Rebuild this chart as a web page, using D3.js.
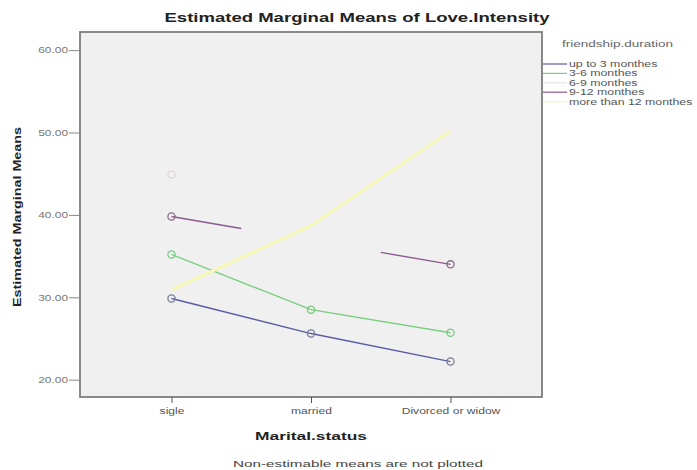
<!DOCTYPE html>
<html><head><meta charset="utf-8">
<script src="https://cdn.jsdelivr.net/npm/d3@7"></script>
<style>body{margin:0;background:#fff;}svg{display:block;font-family:"Liberation Sans",Arial,sans-serif;}</style>
</head><body><svg id="c" width="697" height="470"></svg>
<script>
// ---- data ----
const categories = ["sigle", "married", "Divorced or widow"];
const seriesNames = ["up to 3 monthes", "3-6 monthes", "6-9 monthes", "9-12 monthes", "more than 12 monthes"];
const upTo3 = [29.85, 25.6, 22.2];
const m3to6 = [35.2, 28.5, 25.7];
const m6to9 = [44.9, null, null];
const m9to12 = [39.8, 36.9, 34.0];
const m9to12Plotted = [true, false, true];
const more12 = [30.9, 38.7, 50.2];
const yTicks = [20, 30, 40, 50, 60];
const colors = ["#5b5ba6", "#79cf7e", "#eee2ea", "#8c5a8c", "#f6f7b4"];
const markerColors = ["#7a7a9a", "#79c983", "#dcd6dc", "#8a6a8a", "#f4f4c8"];

const seriesValues = [upTo3, m3to6, m6to9, m9to12, more12];
const plotted = [null, null, null, m9to12Plotted, null];
const showMarkers = [true, true, true, true, false];

const svg = d3.select("#c");
svg.append("rect").attr("width", 697).attr("height", 470).attr("fill", "#fff");

function stretch(sel, f) {
  sel.each(function () {
    const w = this.getComputedTextLength();
    d3.select(this).attr("textLength", w * f).attr("lengthAdjust", "spacingAndGlyphs");
  });
}

const L = 80, T = 32, R = 542, B = 397;
const x = d3.scalePoint().domain(categories).range([L, R]).padding(0.656);
const y = d3.scaleLinear().domain([17.9, 62.2]).range([B, T]);

// plot background
svg.append("rect").attr("x", L).attr("y", T).attr("width", R - L).attr("height", B - T)
  .attr("fill", "#f0f0f0");

// lines
seriesValues.forEach((vals, si) => {
  const pl = plotted[si] || vals.map(v => v != null);
  const g = svg.append("g");
  for (let i = 0; i < vals.length - 1; i++) {
    const a = vals[i], b = vals[i + 1];
    if (a == null || b == null) continue;
    let x1 = x(categories[i]), y1 = y(a), x2 = x(categories[i + 1]), y2 = y(b);
    if (!pl[i] && !pl[i + 1]) continue;
    if (!pl[i + 1]) { x2 = (x1 + x2) / 2; y2 = (y1 + y2) / 2; }
    else if (!pl[i]) { x1 = (x1 + x2) / 2; y1 = (y1 + y2) / 2; }
    g.append("line").attr("x1", x1).attr("y1", y1).attr("x2", x2).attr("y2", y2)
      .attr("stroke", colors[si]).attr("stroke-width", si === 4 ? 3 : 1.4);
  }
  if (showMarkers[si]) {
    vals.forEach((v, i) => {
      if (v == null || !pl[i]) return;
      g.append("circle").attr("cx", x(categories[i])).attr("cy", y(v)).attr("r", 3.6)
        .attr("fill", "none").attr("stroke", markerColors[si]).attr("stroke-width", 1.3);
    });
  }
});

// frame
svg.append("rect").attr("x", L).attr("y", T).attr("width", R - L).attr("height", B - T)
  .attr("fill", "none").attr("stroke", "#7d7d7d").attr("stroke-width", 1.8);

// y axis
const ya = svg.append("g").attr("transform", `translate(${L},0)`)
  .call(d3.axisLeft(y).tickValues(yTicks).tickFormat(d3.format(".2f")).tickSize(11).tickSizeOuter(0));
ya.select(".domain").remove();
ya.selectAll(".tick line").attr("stroke", "#888");
ya.selectAll(".tick text").attr("fill", "#777").attr("font-size", 8.5).attr("x", -12)
  .attr("font-family", "Liberation Sans, Arial, sans-serif");
stretch(ya.selectAll(".tick text"), 1.4);

// x axis
const xa = svg.append("g").attr("transform", `translate(0,${B})`)
  .call(d3.axisBottom(x).tickSize(6).tickSizeOuter(0));
xa.select(".domain").remove();
xa.selectAll(".tick line").attr("stroke", "#555");
xa.selectAll(".tick text").attr("fill", "#555").attr("font-size", 8.5).attr("y", 11)
  .attr("font-family", "Liberation Sans, Arial, sans-serif");
stretch(xa.selectAll(".tick text"), 1.42);

// titles
svg.append("text").attr("x", 357).attr("y", 22).attr("text-anchor", "middle")
  .attr("font-weight", "bold").attr("font-size", 12.5).attr("fill", "#222")
  .attr("textLength", 385).attr("lengthAdjust", "spacingAndGlyphs")
  .text("Estimated Marginal Means of Love.Intensity");
svg.append("text").attr("transform", "translate(21,217) rotate(-90)").attr("text-anchor", "middle")
  .attr("font-weight", "bold").attr("font-size", 11).attr("fill", "#222")
  .attr("textLength", 180).attr("lengthAdjust", "spacingAndGlyphs")
  .text("Estimated Marginal Means");
svg.append("text").attr("x", 311).attr("y", 440).attr("text-anchor", "middle")
  .attr("font-weight", "bold").attr("font-size", 11.5).attr("fill", "#222")
  .attr("textLength", 112).attr("lengthAdjust", "spacingAndGlyphs")
  .text("Marital.status");
svg.append("text").attr("x", 358).attr("y", 467).attr("text-anchor", "middle")
  .attr("font-size", 9.5).attr("fill", "#444")
  .attr("textLength", 250).attr("lengthAdjust", "spacingAndGlyphs")
  .text("Non-estimable means are not plotted");

// legend
const lg = svg.append("g");
lg.append("text").attr("x", 562).attr("y", 47).attr("font-size", 9).attr("fill", "#666")
  .attr("textLength", 111).attr("lengthAdjust", "spacingAndGlyphs").text("friendship.duration");
seriesNames.forEach((n, i) => {
  const yy = 64 + i * 9.4;
  lg.append("line").attr("x1", 543).attr("x2", 567).attr("y1", yy).attr("y2", yy)
    .attr("stroke", colors[i]).attr("stroke-width", 1.2);
  const t = lg.append("text").attr("x", 569).attr("y", yy + 3).attr("font-size", 8.5).attr("fill", "#555")
    .text(n);
  stretch(t, 1.45);
});
</script></body></html>
